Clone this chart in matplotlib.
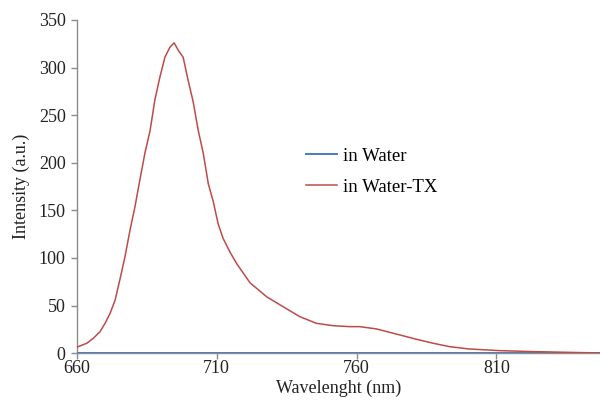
import matplotlib.pyplot as plt
import numpy as np

plt.rcParams['font.family'] = ['Liberation Serif', 'DejaVu Serif']

# Emission spectrum read at selected wavelengths (nm)
wavelength = [660.0, 663.6, 665.9, 668.3, 670.1, 671.9, 673.7, 675.5, 677.2, 679.0,
              680.8, 682.6, 684.4, 686.2, 687.9, 689.7, 691.5, 693.3, 694.8, 696.3,
              698.0, 699.8, 701.6, 703.4, 705.2, 707.0, 708.8, 710.5, 712.3, 714.7,
              717.1, 721.9, 727.8, 733.7, 739.7, 745.6, 751.6, 757.5, 761.1, 767.1,
              775.4, 781.3, 787.3, 793.2, 800.0, 811.1, 822.8, 840.6, 847.0]
water_tx = [6.3, 10.5, 15.7, 22.6, 31.4, 41.9, 55.9, 78.6, 101, 129,
            154, 183, 211, 234, 266, 290, 311, 321.5, 326, 318,
            311, 286.5, 264, 234, 210, 178, 159, 136, 120.5, 106.5,
            94.3, 74, 59.4, 48.9, 38.4, 31.4, 28.9, 27.9, 27.9, 25.5,
            19.2, 14.7, 10.5, 6.9, 4.5, 2.7, 1.7, 0.6, 0.3]
water = [0.0] * len(wavelength)

fig = plt.figure(figsize=(6, 4), dpi=100)
ax = fig.add_axes([0.128, 0.117, 0.872, 0.833])

ax.plot(wavelength, water, color='#4a7ebb', lw=1.4, label='in Water', zorder=3)
ax.plot(wavelength, water_tx, color='#be4b48', lw=1.1, label='in Water-TX', zorder=4)

ax.set_xlim(660, 847)
ax.set_ylim(0, 350)
ax.set_xticks([660, 710, 760, 810])
ax.set_yticks(np.arange(0, 351, 50))

for s in ['top', 'right']:
    ax.spines[s].set_visible(False)
for s in ['left', 'bottom']:
    ax.spines[s].set_color('#8c8c8c')
    ax.spines[s].set_linewidth(1.0)

ax.tick_params(axis='both', colors='#8c8c8c', labelcolor='#222222',
               labelsize=13, length=4, width=1.0)
ax.tick_params(axis='x', pad=1)
ax.tick_params(axis='y', pad=4)

ax.set_xlabel('Wavelenght (nm)', fontsize=13, color='#222222', labelpad=2)
ax.set_ylabel('Intensity (a.u.)', fontsize=13, color='#222222', labelpad=6)

ax.legend(loc='upper left', bbox_to_anchor=(0.405, 0.668), frameon=False,
          fontsize=13.5, handlelength=1.7, handletextpad=0.3, labelspacing=0.75)

fig.savefig('out.png', dpi=100)
